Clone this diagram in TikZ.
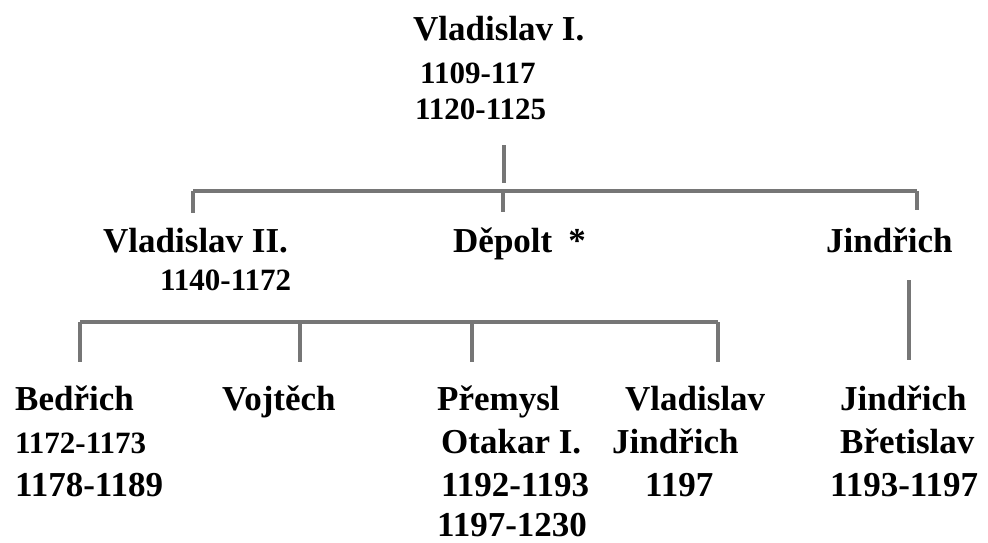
\documentclass[tikz,border=0pt]{standalone}
\usepackage{fontspec}
\setmainfont{Liberation Serif}
\usetikzlibrary{positioning}
\definecolor{linegray}{RGB}{118,118,118}
\tikzset{
  jmeno/.style={anchor=base west,inner sep=0pt,font=\fontsize{35}{40}\selectfont\bfseries},
  roky/.style={anchor=base west,inner sep=0pt,font=\fontsize{31}{36}\selectfont\bfseries},
  vetev/.style={draw=linegray,line width=3.3pt}
}
\begin{document}
\begin{tikzpicture}[x=1pt,y=-1pt]
\useasboundingbox (0,0) rectangle (988,542);
\node[jmeno] (vlI) at (413,40) {Vladislav I.};
\node[roky] (vlIa) at (420,83) {1109-117};
\node[roky] (vlIb) at (415,119) {1120-1125};
\node[jmeno] (vlII) at (103,252) {Vladislav II.};
\node[roky] (vlIIa) at (160,290) {1140-1172};
\node[jmeno] (depolt) at (453,252) {Děpolt\hspace{16pt}*};
\node[jmeno] (jind) at (826,252) {Jindřich};
\node[jmeno] (bedr) at (15,410) {Bedřich}; %Bedřich
\node[roky] (bedra) at (15,453) {1172-1173};
\node[jmeno] (bedrb) at (15,496) {1178-1189};
\node[jmeno] (vojt) at (222,410) {Vojtěch};
\node[jmeno] (prem) at (437,410) {Přemysl}; %Přemysl Otakar I.
\node[jmeno] (premb) at (441,453) {Otakar I.};
\node[jmeno] (premc) at (441,496) {1192-1193};
\node[jmeno] (premd) at (437,536) {1197-1230};
\node[jmeno] (vljh) at (625,410) {Vladislav}; %Vladislav Jindřich
\node[jmeno] (vljhb) at (612,453) {Jindřich};
\node[jmeno] (vljhc) at (645,496) {1197};
\node[jmeno] (jibr) at (840,410) {Jindřich}; %Jindřich Břetislav
\node[jmeno] (jibrb) at (840,453) {Břetislav};
\node[jmeno] (jibrc) at (830,496) {1193-1197};
% body vetvi
\coordinate (t0) at (504,145); \coordinate (t1) at (504,183);
\coordinate (h1a) at (193,191); \coordinate (h1b) at (503,191); \coordinate (h1c) at (917,191);
\coordinate (s1a) at (193,213); \coordinate (s1b) at (503,212); \coordinate (s1c) at (917,210);
\coordinate (j0) at (909,280); \coordinate (j1) at (909,360);
\coordinate (h2a) at (80,322); \coordinate (h2b) at (300,322); \coordinate (h2c) at (472,322); \coordinate (h2d) at (718,322);
\coordinate (s2a) at (80,362); \coordinate (s2b) at (300,362); \coordinate (s2c) at (472,362); \coordinate (s2d) at (718,362);
\draw[vetev] (t0)--(t1);
\draw[vetev] (h1a)--(h1c);
\draw[vetev] (h1a)--(s1a) (h1b)--(s1b) (h1c)--(s1c);
\draw[vetev] (j0)--(j1);
\draw[vetev] (h2a)--(h2d);
\draw[vetev] (h2a)--(s2a) (h2b)--(s2b) (h2c)--(s2c) (h2d)--(s2d);
\end{tikzpicture}
\end{document}
